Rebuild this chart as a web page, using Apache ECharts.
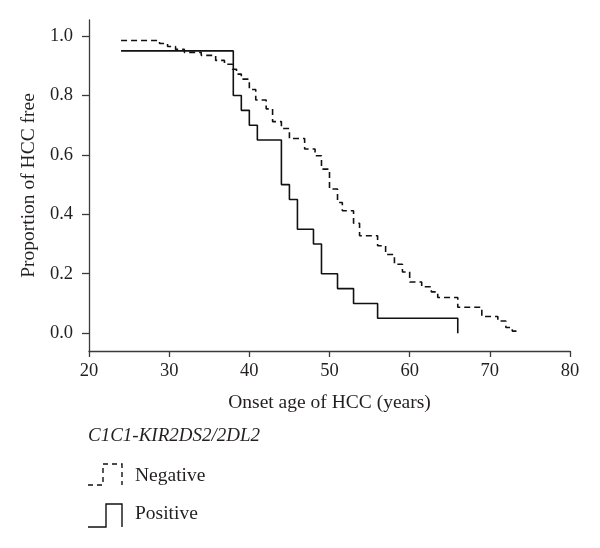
<!DOCTYPE html>
<html>
<head>
<meta charset="utf-8">
<script src="https://cdn.jsdelivr.net/npm/echarts@6/dist/echarts.min.js"></script>
<style>
html,body{margin:0;padding:0;background:#fff;}
#chart{width:600px;height:548px;}
</style>
</head>
<body>
<div id="chart"></div>
<script>
// Kaplan-Meier style step data (x = onset age, y = proportion HCC free)
const negativeAges = [24, 28.8, 29.8, 30.8, 31.9, 34, 35.8, 36.9, 37.9, 38.4, 39, 40, 40.8, 42.1, 42.9, 44, 45, 46.9, 48.2, 49, 50, 51, 51.6, 53, 53.75, 56, 57, 58.1, 59.1, 60, 61.5, 62.7, 63.5, 66, 69, 71, 72, 72.8, 73.7];
const negativeVals = [0.985, 0.975, 0.965, 0.955, 0.945, 0.935, 0.918, 0.905, 0.888, 0.872, 0.855, 0.82, 0.785, 0.755, 0.712, 0.689, 0.655, 0.62, 0.597, 0.552, 0.485, 0.44, 0.412, 0.37, 0.328, 0.294, 0.265, 0.232, 0.206, 0.172, 0.156, 0.139, 0.12, 0.087, 0.056, 0.041, 0.019, 0.007, 0.007];
const positiveAges = [24, 38, 39, 40, 41, 44, 45, 46, 48, 49, 51, 53, 56, 66];
const positiveVals = [0.95, 0.80, 0.75, 0.70, 0.65, 0.50, 0.45, 0.35, 0.30, 0.20, 0.15, 0.10, 0.05, 0.0];
const yTickValues = [0, 0.2, 0.4, 0.6, 0.8, 1.0];
const legendTitle = 'C1C1-KIR2DS2/2DL2';
const seriesNames = ['Negative', 'Positive'];

const FONT = '"Liberation Serif", "DejaVu Serif", serif';
const TXT = '#231f20';
const AX = '#3a3a3a';

const zip = (xs, ys) => xs.map((x, i) => [x, ys[i]]);

const chart = echarts.init(document.getElementById('chart'));
chart.setOption({
  animation: false,
  backgroundColor: '#fff',
  grid: { left: 89, right: 30, top: 20, bottom: 197 },
  xAxis: {
    type: 'value', min: 20, max: 80, interval: 10,
    name: 'Onset age of HCC (years)', nameLocation: 'middle', nameGap: 42,
    nameTextStyle: { fontFamily: FONT, fontSize: 19.5, color: TXT },
    axisLine: { onZero: false, lineStyle: { color: AX, width: 1.3 } },
    axisTick: { show: true, length: 6, lineStyle: { color: AX, width: 1.3 } },
    axisLabel: { margin: 11, fontFamily: FONT, fontSize: 18.5, color: TXT },
    splitLine: { show: false }
  },
  yAxis: {
    type: 'value', min: -0.06, max: 1.054,
    name: 'Proportion of HCC free', nameLocation: 'middle', nameGap: 49,
    nameTextStyle: { fontFamily: FONT, fontSize: 19.5, color: TXT },
    axisLine: { show: true, onZero: false, lineStyle: { color: AX, width: 1.3 } },
    axisTick: { show: true, length: 7, customValues: yTickValues, lineStyle: { color: AX, width: 1.3 } },
    axisLabel: { margin: 16, fontFamily: FONT, fontSize: 18.5, color: TXT, customValues: yTickValues,
      formatter: v => v.toFixed(1) },
    splitLine: { show: false }
  },
  series: [
    {
      name: seriesNames[0], type: 'line', step: 'end', showSymbol: false, silent: true,
      data: zip(negativeAges, negativeVals),
      lineStyle: { color: '#111', width: 1.6, type: [6, 4] }
    },
    {
      name: seriesNames[1], type: 'line', step: 'end', showSymbol: false, silent: true,
      data: zip(positiveAges, positiveVals),
      lineStyle: { color: '#111', width: 1.6, type: 'solid' }
    }
  ],
  graphic: [
    { type: 'text', left: 88, top: 426, style: { text: legendTitle, font: 'italic 19px ' + FONT, fill: TXT } },
    { type: 'polyline', shape: { points: [[88, 485], [103, 485], [103, 464], [122, 464], [122, 485]] },
      style: { stroke: '#111', lineWidth: 1.4, fill: null, lineDash: [5, 4] } },
    { type: 'text', left: 135, top: 466, style: { text: seriesNames[0], font: '19.5px ' + FONT, fill: TXT } },
    { type: 'polyline', shape: { points: [[88, 527], [106, 527], [106, 504], [122, 504], [122, 527]] },
      style: { stroke: '#111', lineWidth: 1.4, fill: null } },
    { type: 'text', left: 135, top: 504, style: { text: seriesNames[1], font: '19.5px ' + FONT, fill: TXT } }
  ]
});
</script>
</body>
</html>
